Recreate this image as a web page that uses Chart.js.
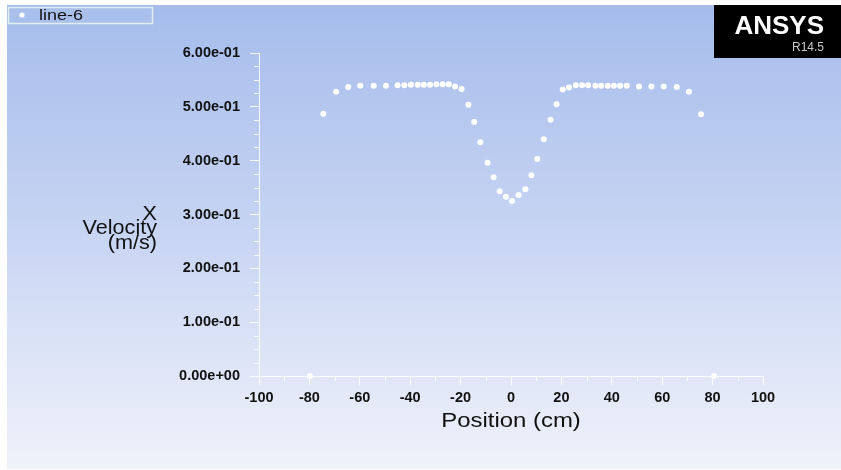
<!DOCTYPE html>
<html>
<head>
<meta charset="utf-8">
<title>X Velocity - line-6</title>
<script src="https://cdn.jsdelivr.net/npm/chart.js@4/dist/chart.umd.min.js"></script>
<style>
  html, body { margin: 0; padding: 0; background: #ffffff; }
  canvas { display: block; }
</style>
</head>
<body>
<canvas id="myCanvas" width="841" height="470"></canvas>
<script>
// positions along line-6 (cm) and x velocity there (m/s)
const positions = [
  -79.8, -74.5, -69.4, -64.6, -59.8, -54.5, -49.6, -45.0, -42.3, -39.7,
  -37.0, -34.6, -32.1, -29.6, -27.1, -24.7, -22.2, -19.6, -16.9, -14.6,
  -12.2, -9.3, -6.9, -4.5, -2.0, 0.4, 3.0, 5.7, 8.1, 10.4,
  13.0, 15.7, 18.1, 20.5, 23.0, 25.7, 28.2, 30.6, 33.5, 35.8,
  38.4, 40.8, 43.3, 45.9, 50.8, 55.7, 60.6, 65.8, 70.6, 75.4, 80.6
];
const velocity = [
  0, 0.487, 0.528, 0.537, 0.539, 0.539, 0.539, 0.540, 0.540, 0.541,
  0.541, 0.541, 0.541, 0.542, 0.542, 0.542, 0.538, 0.533, 0.504, 0.472,
  0.434, 0.396, 0.369, 0.343, 0.333, 0.325, 0.336, 0.347, 0.373, 0.403,
  0.440, 0.476, 0.505, 0.532, 0.536, 0.540, 0.540, 0.540, 0.539, 0.539,
  0.539, 0.539, 0.539, 0.539, 0.538, 0.538, 0.538, 0.537, 0.528, 0.486, 0
];

const seriesName = "line-6";
const xTitle = "Position (cm)";
const yTitle = ["X", "Velocity", "(m/s)"];
const xRange = [-100, 100];
const yRange = [0, 0.6];

const axisColor = "rgba(255,255,255,0.85)";
const textFont = "'Liberation Sans', Arial, sans-serif";

// fluent style number format: 6.00e-01, 0.00e+00
function sciLabel(v) {
  if (Math.abs(v) < 1e-12) return "0.00e+00";
  const parts = v.toExponential(2).split("e");
  let exp = parseInt(parts[1], 10);
  const sign = exp < 0 ? "-" : "+";
  exp = Math.abs(exp);
  return parts[0] + "e" + sign + (exp < 10 ? "0" + exp : exp);
}

// draws text stretched horizontally
function wideText(ctx, text, x, y, sx, align) {
  ctx.save();
  ctx.translate(x, y);
  ctx.scale(sx, 1);
  ctx.textAlign = align;
  ctx.fillText(text, 0, 0);
  ctx.restore();
}

const backdrop = {
  id: "backdrop",
  beforeDraw(chart) {
    const ctx = chart.ctx;
    ctx.save();
    ctx.fillStyle = "#ffffff";
    ctx.fillRect(0, 0, chart.width, chart.height);
    const g = ctx.createLinearGradient(0, 5, 0, 469);
    g.addColorStop(0, "rgb(165,188,235)");
    g.addColorStop(0.5, "rgb(200,213,243)");
    g.addColorStop(1, "rgb(240,242,250)");
    ctx.fillStyle = g;
    ctx.fillRect(7, 5, chart.width - 7, 464);
    ctx.restore();
  }
};

const decorations = {
  id: "decorations",
  afterDraw(chart) {
    const ctx = chart.ctx;
    const xs = chart.scales.x;
    const ys = chart.scales.y;
    const area = chart.chartArea;

    ctx.save();
    // minor ticks
    ctx.strokeStyle = axisColor;
    ctx.lineWidth = 1;
    ctx.beginPath();
    for (let i = 0; i <= 24; i++) {
      if (i % 4 === 0) continue;
      const py = Math.round(ys.getPixelForValue(i * 0.025)) + 0.5;
      ctx.moveTo(area.left - 5, py);
      ctx.lineTo(area.left, py);
    }
    for (let i = -10; i <= 10; i++) {
      if (i % 2 === 0) continue;
      const px = Math.round(xs.getPixelForValue(i * 10)) + 0.5;
      ctx.moveTo(px, area.bottom);
      ctx.lineTo(px, area.bottom + 5);
    }
    ctx.stroke();

    // axis titles
    ctx.fillStyle = "#111111";
    ctx.textBaseline = "middle";
    ctx.font = "21px " + textFont;
    wideText(ctx, xTitle, (area.left + area.right) / 2, 421, 1.14, "center");
    ctx.font = "20px " + textFont;
    yTitle.forEach((line, i) => {
      wideText(ctx, line, 157, 214 + i * 14.5, 1.08, "right");
    });

    // legend box
    ctx.fillStyle = "rgba(172,194,237,0.6)";
    ctx.fillRect(8.5, 7.5, 144, 16);
    ctx.strokeStyle = "rgba(225,238,240,0.95)";
    ctx.lineWidth = 1.5;
    ctx.strokeRect(8.5, 7.5, 144, 16);
    ctx.fillStyle = "#ffffff";
    ctx.beginPath();
    ctx.arc(22, 15, 2.6, 0, Math.PI * 2);
    ctx.fill();
    ctx.fillStyle = "#111111";
    ctx.font = "15px " + textFont;
    wideText(ctx, chart.data.datasets[0].label, 39, 15.5, 1.2, "left");

    // logo
    ctx.fillStyle = "#000000";
    ctx.fillRect(714, 5, chart.width - 714, 53);
    ctx.fillStyle = "#ffffff";
    ctx.font = "bold 26px " + textFont;
    ctx.textBaseline = "alphabetic";
    ctx.textAlign = "right";
    ctx.fillText("ANSYS", 824, 34);
    ctx.fillStyle = "#c8c8c8";
    ctx.font = "12px " + textFont;
    ctx.fillText("R14.5", 824, 51);
    ctx.restore();
  }
};

const tickFont = { family: textFont, size: 14.5, weight: "bold" };

new Chart(document.getElementById("myCanvas").getContext("2d"), {
  type: "scatter",
  data: {
    datasets: [
      {
        label: seriesName,
        data: positions.map((p, i) => ({ x: p, y: velocity[i] })),
        backgroundColor: "#ffffff",
        borderColor: "#ffffff",
        borderWidth: 0,
        pointRadius: 3,
        showLine: false,
        clip: false
      }
    ]
  },
  options: {
    responsive: false,
    animation: false,
    layout: { padding: { top: 53, right: 78, left: 0, bottom: 0 } },
    plugins: {
      legend: { display: false },
      tooltip: { enabled: false }
    },
    scales: {
      x: {
        type: "linear",
        min: xRange[0],
        max: xRange[1],
        afterFit: (scale) => { scale.height = 94; },
        border: { display: true, color: axisColor, width: 1 },
        grid: { drawOnChartArea: false, drawTicks: true, tickLength: 9, color: axisColor, tickColor: axisColor },
        ticks: {
          stepSize: 20,
          padding: 4,
          color: "#111111",
          font: tickFont,
          maxRotation: 0,
          callback: (v) => String(v)
        }
      },
      y: {
        type: "linear",
        min: yRange[0],
        max: yRange[1],
        afterFit: (scale) => { scale.width = 259; },
        border: { display: true, color: axisColor, width: 1 },
        grid: { drawOnChartArea: false, drawTicks: true, tickLength: 9, color: axisColor, tickColor: axisColor },
        ticks: {
          stepSize: 0.1,
          padding: 10,
          color: "#111111",
          font: tickFont,
          callback: (v) => sciLabel(v)
        }
      }
    }
  },
  plugins: [backdrop, decorations]
});
</script>
</body>
</html>
